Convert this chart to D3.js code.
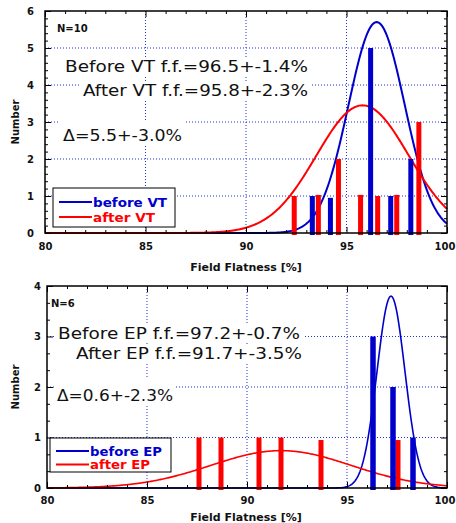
<!DOCTYPE html>
<meta charset="utf-8">
<head>
    <meta charset="utf-8">
    <title>Field Flatness</title>
    <script src="https://d3js.org/d3.v7.min.js"></script>
    <style>
        body { margin: 0; background: #fff; font-family: 'DejaVu Sans', sans-serif; }
        svg text { fill: #111; }
    </style>
</head>
<body>
<div id="chart"></div>
<script>
    // --- data ---
    // VT panel (N=10)
    var vtBeforeX = [93.3, 94.2, 96.2, 97.2, 98.2];
    var vtBeforeN = [1, 0.95, 5, 1, 2];
    var vtAfterX = [92.4, 93.6, 94.6, 95.7, 96.55, 97.5, 98.6];
    var vtAfterN = [1, 1.03, 2, 1.03, 1, 1.03, 3];
    // EP panel (N=6)
    var epBeforeX = [96.3, 97.3, 98.3];
    var epBeforeN = [3, 2, 1];
    var epAfterX = [87.6, 88.7, 90.6, 91.7, 93.7, 97.55];
    var epAfterN = [1, 1, 1, 1, 0.95, 0.95];

    // gaussian fits: [before, after]
    var vtFitMean = [96.5, 95.8], vtFitSigma = [1.4, 2.3], vtFitPeak = [5.7, 3.45];
    var epFitMean = [97.2, 91.7], epFitSigma = [0.7, 3.5], epFitPeak = [3.8, 0.74];

    var xTicks = [80, 85, 90, 95, 100];

    var blue = "#0000cc", red = "#ff0000", grid = "#2233dd";

    var svg = d3.select("#chart").append("svg")
        .attr("width", 456).attr("height", 523);

    function panel(p) {
        var x = d3.scaleLinear().domain([80, 100]).range([p.left, 447]);
        var y = d3.scaleLinear().domain([0, p.ymax]).range([p.bottom, p.top]);
        var g = svg.append("g");

        // grid
        g.selectAll(".gx").data([85, 90, 95]).enter().append("line")
            .attr("x1", d => x(d)).attr("x2", d => x(d))
            .attr("y1", p.top).attr("y2", p.bottom)
            .attr("stroke", grid).attr("stroke-width", 1).attr("stroke-dasharray", "1,2");
        g.selectAll(".gy").data(d3.range(1, p.ymax)).enter().append("line")
            .attr("x1", p.left).attr("x2", 447)
            .attr("y1", d => y(d)).attr("y2", d => y(d))
            .attr("stroke", grid).attr("stroke-width", 1).attr("stroke-dasharray", "1,2");

        // texts with white boxes
        p.texts.forEach(function(t) {
            var tg = g.append("g");
            var bg = tg.append("rect").attr("fill", "#fff");
            var el = tg.append("text")
                .attr("x", t.x).attr("y", t.y)
                .style("font-size", t.size + "px")
                .style("font-weight", t.bold ? "bold" : "normal")
                .text(t.s);
            if (t.w) el.attr("textLength", t.w).attr("lengthAdjust", "spacingAndGlyphs");
            var b = el.node().getBBox();
            var padTop = t.padTop || 2;
            bg.attr("x", b.x - 3).attr("y", b.y - padTop + 2)
                .attr("width", b.width + 6).attr("height", b.height - 2 + padTop);
        });

        // fit curves
        var xs = d3.range(80, 100.001, 0.05);
        var line = d3.line().x(d => x(d[0])).y(d => y(d[1]));
        [0, 1].forEach(function(i) {
            var pts = xs.map(v => [v, p.peak[i] * Math.exp(-Math.pow(v - p.mean[i], 2) / (2 * p.sigma[i] * p.sigma[i]))]);
            g.append("path").datum(pts)
                .attr("d", line).attr("fill", "none")
                .attr("stroke", i === 0 ? blue : red)
                .attr("stroke-width", p.curveW);
        });

        // bars
        function bars(xv, nv, color, w) {
            g.selectAll(null).data(xv).enter().append("rect")
                .attr("x", d => x(d) - w / 2)
                .attr("y", (d, i) => y(nv[i]))
                .attr("width", w)
                .attr("height", (d, i) => y(0) - y(nv[i]) + 2)
                .attr("fill", color);
        }
        bars(p.afterX, p.afterN, red, 5);
        bars(p.beforeX, p.beforeN, blue, p.blueW);

        // frame + ticks
        g.append("rect").attr("x", p.left).attr("y", p.top)
            .attr("width", 447 - p.left).attr("height", p.bottom - p.top)
            .attr("fill", "none").attr("stroke", "#000").attr("stroke-width", 1.5);

        var minorX = d3.range(81, 100).filter(d => d % 5 !== 0);
        var minorY = d3.range(0, p.ymax + 0.001, p.minorStep).filter(d => Math.abs(d - Math.round(d)) > 0.01);

        function styleAxis(a) {
            a.select(".domain").remove();
            a.selectAll("line").attr("stroke", "#000");
            a.selectAll("text").style("font-size", "10px").style("font-weight", "bold")
                .style("font-family", "'DejaVu Sans', sans-serif");
        }
        var ax = g.append("g").attr("transform", "translate(0," + p.bottom + ")")
            .call(d3.axisBottom(x).tickValues(xTicks).tickSize(-6).tickPadding(p.xPad));
        styleAxis(ax);
        // last label sits against the window edge
        ax.selectAll("text").filter(d => d === 100).attr("dx", -2.5);
        styleAxis(g.append("g").attr("transform", "translate(0," + p.bottom + ")")
            .call(d3.axisBottom(x).tickValues(minorX).tickSize(-3).tickFormat("")));
        styleAxis(g.append("g").attr("transform", "translate(0," + p.top + ")")
            .call(d3.axisTop(x).tickValues(xTicks).tickSize(-6).tickFormat("")));
        styleAxis(g.append("g").attr("transform", "translate(0," + p.top + ")")
            .call(d3.axisTop(x).tickValues(minorX).tickSize(-3).tickFormat("")));
        var ay = g.append("g").attr("transform", "translate(" + p.left + ",0)")
            .call(d3.axisLeft(y).ticks(p.ymax).tickSize(-6).tickPadding(p.yPad));
        styleAxis(ay);
        styleAxis(g.append("g").attr("transform", "translate(" + p.left + ",0)")
            .call(d3.axisLeft(y).tickValues(minorY).tickSize(-3).tickFormat("")));
        styleAxis(g.append("g").attr("transform", "translate(447,0)")
            .call(d3.axisRight(y).ticks(p.ymax).tickSize(-6).tickFormat("")));
        styleAxis(g.append("g").attr("transform", "translate(447,0)")
            .call(d3.axisRight(y).tickValues(minorY).tickSize(-3).tickFormat("")));

        // legend
        var L = p.legend;
        g.append("rect").attr("x", L.x).attr("y", L.y).attr("width", L.w).attr("height", L.h)
            .attr("fill", "#fff").attr("stroke", "#000").attr("stroke-width", 1);
        L.items.forEach(function(it, i) {
            var ly = L.y + L.first + i * L.gap;
            g.append("line").attr("x1", L.x + 6).attr("x2", L.x + 39)
                .attr("y1", ly).attr("y2", ly)
                .attr("stroke", i === 0 ? blue : red).attr("stroke-width", 2);
            g.append("text").attr("x", L.x + 40).attr("y", ly + 4.5)
                .style("font-size", "12px").style("font-weight", "bold")
                .style("fill", i === 0 ? blue : red)
                .attr("textLength", it.w).attr("lengthAdjust", "spacingAndGlyphs")
                .text(it.s);
        });

        // axis titles
        svg.append("text").attr("x", 246).attr("y", p.xTitleY)
            .attr("text-anchor", "middle")
            .style("font-size", "11px").style("font-weight", "bold")
            .text("Field Flatness [%]");
        svg.append("text")
            .attr("transform", "translate(19," + ((p.top + p.bottom) / 2) + ") rotate(-90)")
            .attr("text-anchor", "middle")
            .style("font-size", "10px").style("font-weight", "bold")
            .text("Number");
    }

    panel({
        left: 45, top: 11, bottom: 233, ymax: 6, minorStep: 0.2,
        xPad: 10, yPad: 11, curveW: 2, blueW: 5, xTitleY: 271,
        beforeX: vtBeforeX, beforeN: vtBeforeN, afterX: vtAfterX, afterN: vtAfterN,
        mean: vtFitMean, sigma: vtFitSigma, peak: vtFitPeak,
        texts: [
            {s: "N=10", x: 57, y: 32, size: 10, bold: true},
            {s: "Before VT f.f.=96.5+-1.4%", x: 65, y: 72, size: 16, w: 243},
            {s: "After VT f.f.=95.8+-2.3%", x: 83, y: 96, size: 16, w: 225},
            {s: "\u0394=5.5+-3.0%", x: 63, y: 141, size: 16, w: 119, padTop: 8}
        ],
        legend: {x: 53, y: 188, w: 122, h: 39, first: 14, gap: 15,
            items: [{s: "before VT", w: 74}, {s: "after VT", w: 62}]}
    });

    panel({
        left: 47, top: 286, bottom: 488, ymax: 4, minorStep: 1 / 3,
        xPad: 9, yPad: 6, curveW: 1.6, blueW: 5.5, xTitleY: 521,
        beforeX: epBeforeX, beforeN: epBeforeN, afterX: epAfterX, afterN: epAfterN,
        mean: epFitMean, sigma: epFitSigma, peak: epFitPeak,
        texts: [
            {s: "N=6", x: 51, y: 307, size: 10, bold: true},
            {s: "Before EP f.f.=97.2+-0.7%", x: 58, y: 339, size: 16, w: 242},
            {s: "After EP f.f.=91.7+-3.5%", x: 76, y: 359, size: 16, w: 226},
            {s: "\u0394=0.6+-2.3%", x: 57, y: 401, size: 16, w: 116, padTop: 10}
        ],
        legend: {x: 50, y: 438, w: 121, h: 34, first: 13, gap: 13.5,
            items: [{s: "before EP", w: 72}, {s: "after EP", w: 60}]}
    });
</script>
</body>
